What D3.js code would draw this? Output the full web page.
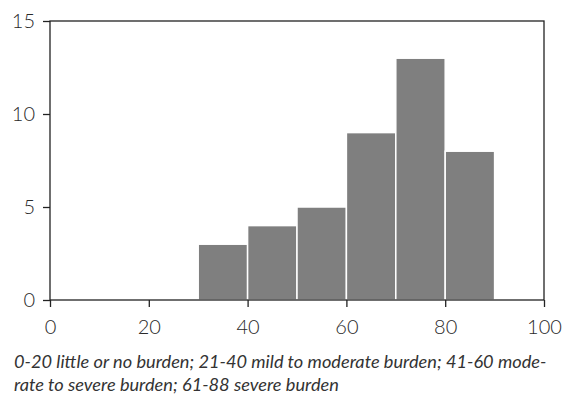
<!DOCTYPE html>
<html>
<head>
<meta charset="utf-8">
<script src="https://cdn.jsdelivr.net/npm/d3@7"></script>
<style>
  body { margin: 0; background: #fff; }
  svg { display: block; font-family: Lato, "Open Sans", sans-serif; }
</style>
</head>
<body>
<svg id="chart" width="570" height="395"></svg>
<script>
// Histogram bins (lower edge, upper edge) and counts
const binStart = [30, 40, 50, 60, 70, 80];
const binEnd = [40, 50, 60, 70, 80, 90];
const counts = [3, 4, 5, 9, 13, 8];
const xTicks = [0, 20, 40, 60, 80, 100];
const yTicks = [0, 5, 10, 15];
const captionLines = [
  '0-20 little or no burden; 21-40 mild to moderate burden; 41-60 mode-',
  'rate to severe burden; 61-88 severe burden'
];

const margin = { top: 21, right: 26, bottom: 95, left: 50 };
const width = 570 - margin.left - margin.right;
const height = 395 - margin.top - margin.bottom;

const svg = d3.select('#chart')
  .append('g')
    .attr('transform', 'translate(' + margin.left + ',' + margin.top + ')');

const x = d3.scaleLinear().domain([0, 100]).range([0, width]);
const y = d3.scaleLinear().domain([0, 15]).range([height, 0]);

const bins = counts.map((c, i) => ({ x0: binStart[i], x1: binEnd[i], n: c }));

// bars
svg.selectAll('.bar')
  .data(bins)
  .enter().append('rect')
    .attr('class', 'bar')
    .attr('x', d => x(d.x0))
    .attr('width', d => x(d.x1) - x(d.x0))
    .attr('y', d => y(d.n))
    .attr('height', d => y(0) - y(d.n))
    .attr('fill', '#7f7f7f')
    .attr('stroke', '#fff')
    .attr('stroke-width', 1.5);

// box around plot
svg.append('rect')
  .attr('width', width)
  .attr('height', height)
  .attr('fill', 'none')
  .attr('stroke', '#222')
  .attr('stroke-width', 1.3);

// axes
const xAxis = svg.append('g')
  .attr('transform', 'translate(0,' + height + ')')
  .call(d3.axisBottom(x).tickValues(xTicks).tickSize(7).tickPadding(13));

const yAxis = svg.append('g')
  .call(d3.axisLeft(y).tickValues(yTicks).tickSize(7).tickPadding(8));

[xAxis, yAxis].forEach(g => {
  g.select('.domain').remove();
  g.selectAll('.tick line').attr('stroke', '#222').attr('stroke-width', 1.3);
  g.selectAll('.tick text')
    .attr('fill', '#2a2a2a')
    .style('font-family', 'Lato, "Open Sans", sans-serif')
    .style('font-size', '20px')
    .style('font-weight', 300);
});

// caption
const cap = svg.append('text')
  .attr('y', height + 68)
  .attr('fill', '#333')
  .style('font-family', 'Lato, "Open Sans", sans-serif')
  .style('font-size', '18.2px')
  .style('font-style', 'italic')
  .style('font-weight', 400);

cap.selectAll('tspan')
  .data(captionLines)
  .enter().append('tspan')
    .attr('x', -margin.left + 14)
    .attr('dy', (d, i) => i === 0 ? 0 : 23)
    .text(d => d);
</script>
</body>
</html>
